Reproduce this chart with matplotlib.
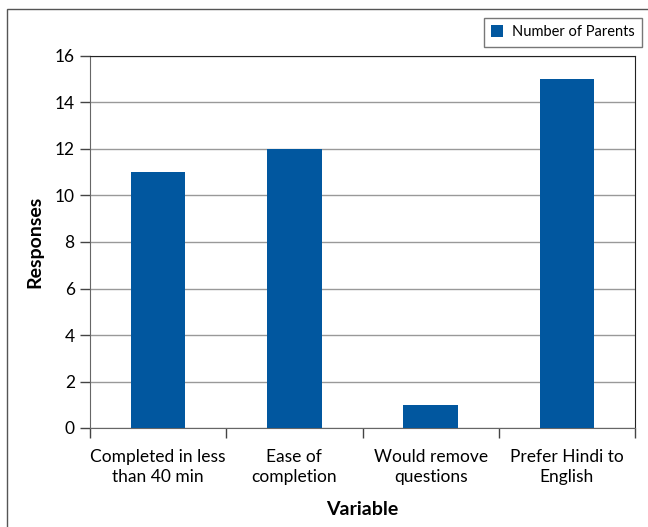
import matplotlib
matplotlib.use("Agg")
import matplotlib.pyplot as plt
from matplotlib.patches import Rectangle
from matplotlib.ticker import FixedLocator, NullFormatter

categories = ["Completed in less\nthan 40 min", "Ease of\ncompletion",
              "Would remove\nquestions", "Prefer Hindi to\nEnglish"]
responses = [11, 12, 1, 15]
series_name = "Number of Parents"
y_ticks = [0, 2, 4, 6, 8, 10, 12, 14, 16]

plt.rcParams["font.family"] = ["Lato", "DejaVu Sans"]

fig = plt.figure(figsize=(6.48, 5.27), dpi=100)
W, H = 648, 527

# outer chart frame
fig.patches.append(Rectangle((7 / W, -0.01), 1.0, 1 - 9 / H + 0.01,
                             transform=fig.transFigure, fill=False,
                             edgecolor="#555555", linewidth=1.0))

ax = fig.add_axes([90 / W, 1 - 428 / H, (635 - 90) / W, (428 - 56) / H])

x = range(len(categories))
bars = ax.bar(x, responses, width=0.40, color="#01579F", label=series_name,
              zorder=3)

ax.set_xlim(-0.5, len(categories) - 0.5)
ax.set_ylim(0, 16)
ax.set_yticks(y_ticks)
ax.yaxis.grid(True, color="#999999", linewidth=1.0, zorder=0)

# category labels centred, ticks on category boundaries
ax.set_xticks(list(x))
ax.set_xticklabels(categories, fontsize=12.5, linespacing=1.3)
ax.tick_params(axis="x", which="major", length=0, pad=15)
ax.xaxis.set_minor_locator(FixedLocator([i - 0.5 for i in range(len(categories) + 1)]))
ax.xaxis.set_minor_formatter(NullFormatter())
ax.tick_params(axis="x", which="minor", length=7, width=1, color="#444444")
ax.tick_params(axis="y", length=7, width=1, color="#444444", labelsize=12.5, pad=4)

for s in ("left", "bottom"):
    ax.spines[s].set_color("#666666")
for s in ("top", "right"):
    ax.spines[s].set_color("#222222")

ax.set_ylabel("Responses", fontsize=14, fontweight="bold", labelpad=8)
ax.set_xlabel("Variable", fontsize=14, fontweight="bold", labelpad=12)

leg = ax.legend(loc="upper right", bbox_to_anchor=(642 / W, 1 - 18 / H),
                bbox_transform=fig.transFigure, fontsize=10.5, frameon=True,
                fancybox=False, edgecolor="#555555", handlelength=0.85,
                handleheight=0.85, handletextpad=0.6, borderpad=0.5,
                borderaxespad=0)
leg.get_frame().set_linewidth(1.0)

fig.savefig("out.png", dpi=100)
